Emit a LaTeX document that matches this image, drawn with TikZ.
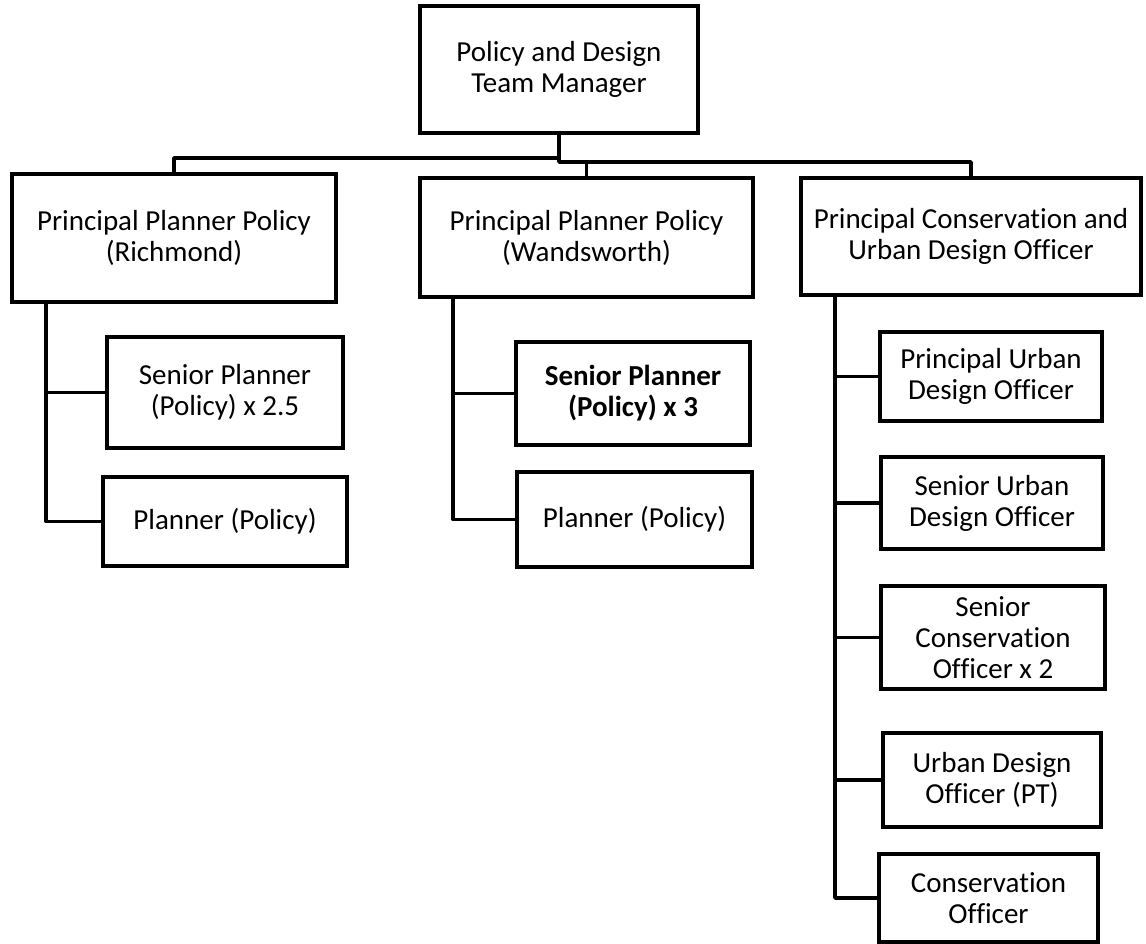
\documentclass[tikz,border=0pt]{standalone}
\usepackage{fontspec}
\setmainfont{Carlito}[Ligatures=NoCommon]
\usepackage{tikz}

\begin{document}
\begin{tikzpicture}[x=1pt, y=-1pt,
	post/.style={draw=black, line width=4pt, align=center, inner sep=0pt,
		font=\fontsize{29}{31}\selectfont},
	link/.style={draw=black, line width=3.6pt, line join=round}]
	\useasboundingbox (0,0) rectangle (1146,944);

	% head of the team
	\node[post, minimum width=278pt, minimum height=127pt] (top) at (559, 69.5) {Policy and Design\\Team Manager};

	% principal officers
	\node[post, minimum width=324pt, minimum height=128pt] (rich) at (174, 238)   {Principal Planner Policy\\(Richmond)};
	\node[post, minimum width=333pt, minimum height=119pt] (wand) at (586.5, 237.5) {Principal Planner Policy\\(Wandsworth)};
	\node[post, minimum width=340pt, minimum height=117pt] (cons) at (971, 236.5) {Principal Conservation and\\Urban Design Officer};

	% Richmond team
	\node[post, minimum width=236pt, minimum height=111pt] (richsp) at (225, 392.5) {Senior Planner\\(Policy) x 2.5};
	\node[post, minimum width=244pt, minimum height=89pt]  (richp)  at (225, 521.5) {Planner (Policy)};

	% Wandsworth team
	\node[post, minimum width=234pt, minimum height=103pt] (wandsp) at (633, 393.5)   {\textbf{Senior Planner}\\\textbf{(Policy) x 3}};
	\node[post, minimum width=235pt, minimum height=95pt]  (wandp)  at (634.5, 519.5) {Planner (Policy)};

	% conservation and urban design team
	\node[post, minimum width=222pt, minimum height=89pt]  (pudo) at (991, 376.5) {Principal Urban\\Design Officer};
	\node[post, minimum width=222pt, minimum height=92pt]  (sudo) at (992, 503)   {Senior Urban\\Design Officer};
	\node[post, minimum width=224pt, minimum height=103pt] (sco)  at (993, 637.5) {Senior\\Conservation\\Officer x 2};
	\node[post, minimum width=218pt, minimum height=94pt]  (udo)  at (992, 780)   {Urban Design\\Officer (PT)};
	\node[post, minimum width=219pt, minimum height=88pt]  (co)   at (988.5, 898) {Conservation\\Officer};

	\coordinate (richline) at (46, 0);
	\coordinate (wandline) at (453, 0);
	\coordinate (consline) at (835, 0);

	% top level links
	\draw[link] (top.south) -- ++(0,23) -| (rich.north);
	\draw[link] (top.south) -- ++(0,27) -| (cons.north);
	\draw[link] (top.south) ++(0,27) -| (wand.north);

	% team links
	\draw[link] (rich.south -| richline) |- (richsp.west);
	\draw[link] (rich.south -| richline) |- (richp.west);
	\draw[link] (wand.south -| wandline) |- (wandsp.west);
	\draw[link] (wand.south -| wandline) |- (wandp.west);
	\draw[link] (cons.south -| consline) |- (pudo.west);
	\draw[link] (cons.south -| consline) |- (sudo.west);
	\draw[link] (cons.south -| consline) |- (sco.west);
	\draw[link] (cons.south -| consline) |- (udo.west);
	\draw[link] (cons.south -| consline) |- (co.west);
\end{tikzpicture}
\end{document}
